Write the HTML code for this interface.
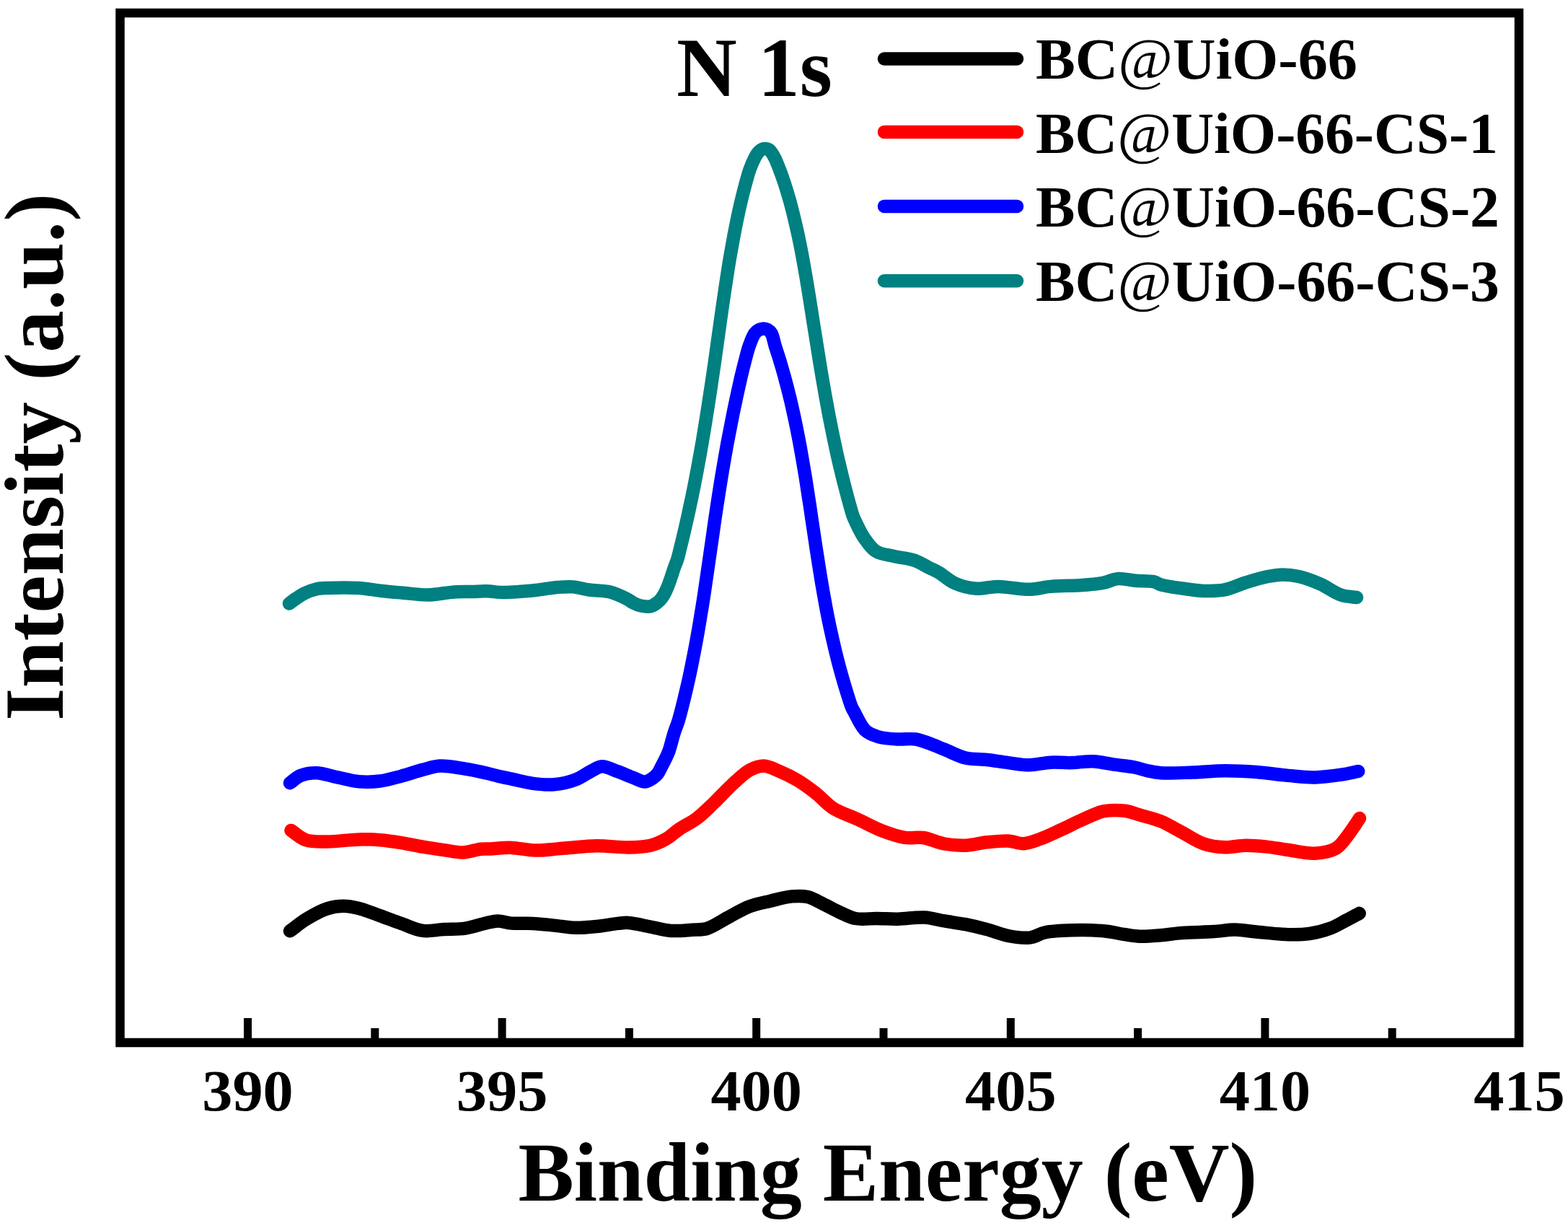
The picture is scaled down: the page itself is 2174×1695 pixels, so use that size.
<!DOCTYPE html>
<html><head><meta charset="utf-8"><title>N 1s XPS</title>
<style>
html,body{margin:0;padding:0;background:#fff;}
body{width:2174px;height:1695px;overflow:hidden;}
svg{display:block;}
text{font-family:"Liberation Serif","Times New Roman",serif;font-weight:bold;fill:#000;}
</style></head><body>
<svg width="2174" height="1695" viewBox="0 0 2174 1695">
<rect x="0" y="0" width="2174" height="1695" fill="#fff"/>
<g fill="none" stroke-width="18.5" stroke-linecap="round" stroke-linejoin="round">
<path d="M402.0 1290.3C409.4 1284.9 416.1 1279.2 424.2 1274.2C433.1 1268.8 444.3 1262.4 453.6 1259.4C461.3 1256.9 468.3 1255.9 475.7 1255.8C483.0 1255.7 489.9 1257.1 497.7 1259.0C506.9 1261.3 517.4 1265.8 527.2 1269.3C537.0 1272.8 546.8 1276.6 556.6 1280.0C566.4 1283.4 576.1 1288.6 586.1 1289.9C595.8 1291.2 605.7 1288.6 615.5 1288.1C625.3 1287.6 635.2 1288.1 645.0 1286.7C654.9 1285.2 666.1 1281.1 674.4 1279.3C680.4 1278.0 684.5 1276.6 690.0 1276.5C696.1 1276.4 702.2 1279.0 709.4 1279.6C718.2 1280.3 729.1 1279.4 738.9 1279.9C748.7 1280.4 758.5 1281.6 768.3 1282.6C778.1 1283.6 788.0 1285.6 797.8 1285.8C807.6 1286.0 817.4 1285.0 827.2 1284.0C837.0 1283.0 848.5 1280.7 856.6 1279.9C862.3 1279.3 865.6 1278.6 871.3 1278.9C879.5 1279.4 891.0 1282.5 900.8 1284.3C910.6 1286.1 920.3 1289.2 930.2 1289.9C940.0 1290.6 950.8 1289.3 959.7 1288.7C967.1 1288.2 972.8 1289.1 980.0 1287.0C989.2 1284.3 999.6 1276.6 1009.4 1271.5C1019.2 1266.4 1028.9 1260.2 1038.9 1256.4C1048.5 1252.7 1058.5 1251.0 1068.3 1248.7C1078.1 1246.4 1088.6 1243.2 1097.8 1242.4C1105.6 1241.7 1112.6 1241.4 1119.8 1243.1C1127.3 1244.9 1134.6 1249.6 1141.9 1253.1C1149.3 1256.6 1156.6 1260.9 1164.0 1264.2C1171.3 1267.5 1178.0 1271.5 1186.1 1273.0C1195.1 1274.7 1205.7 1272.9 1215.5 1273.0C1225.3 1273.1 1234.6 1273.9 1245.0 1273.7C1256.6 1273.5 1270.4 1270.8 1281.7 1271.5C1291.6 1272.1 1300.0 1274.8 1309.4 1276.4C1319.1 1278.0 1329.1 1279.3 1338.9 1281.2C1348.7 1283.2 1358.5 1285.5 1368.3 1288.1C1378.2 1290.7 1387.9 1295.1 1397.8 1297.0C1407.5 1298.9 1418.2 1300.6 1427.2 1299.6C1435.2 1298.7 1440.9 1294.0 1449.3 1292.3C1459.9 1290.1 1473.3 1289.7 1486.1 1289.3C1500.1 1288.9 1517.0 1289.1 1530.2 1290.3C1541.1 1291.3 1550.8 1293.9 1559.7 1295.2C1567.1 1296.3 1572.6 1297.4 1580.0 1297.7C1588.9 1298.0 1599.6 1297.0 1609.4 1296.2C1619.2 1295.4 1628.1 1293.8 1638.9 1293.0C1652.1 1292.0 1669.8 1291.9 1683.0 1291.1C1693.8 1290.4 1702.7 1288.5 1712.5 1288.6C1722.3 1288.7 1731.1 1290.5 1741.9 1291.5C1755.1 1292.7 1772.9 1294.9 1786.1 1295.2C1796.9 1295.4 1805.8 1295.4 1815.5 1294.0C1825.4 1292.5 1836.1 1289.8 1845.0 1286.4C1853.0 1283.4 1860.1 1278.9 1867.0 1275.3C1873.2 1272.1 1878.8 1269.0 1884.7 1265.8" stroke="#000000" />
<path d="M403.5 1150.9C410.4 1155.3 416.3 1161.6 424.2 1164.2C432.8 1167.1 442.8 1166.4 453.6 1166.4C466.8 1166.4 484.5 1163.7 497.7 1163.4C508.5 1163.2 517.4 1163.4 527.2 1164.2C537.0 1165.0 546.8 1166.5 556.6 1168.1C566.4 1169.7 576.3 1172.0 586.1 1173.7C595.9 1175.4 605.9 1176.8 615.5 1178.1C624.6 1179.3 633.3 1181.7 642.0 1181.4C650.5 1181.1 660.0 1177.4 667.0 1176.7C672.0 1176.2 674.8 1176.6 680.0 1176.4C687.8 1176.1 699.4 1174.6 709.4 1174.9C720.0 1175.2 730.3 1178.4 741.8 1178.6C754.7 1178.9 769.0 1176.6 783.0 1175.6C797.5 1174.5 812.5 1172.4 827.2 1172.2C841.9 1172.0 858.1 1174.7 871.3 1174.5C882.1 1174.3 891.8 1174.1 900.8 1172.0C908.9 1170.1 916.0 1166.9 922.9 1163.1C929.8 1159.3 935.2 1153.6 942.0 1149.0C949.4 1144.0 958.3 1140.2 966.0 1134.4C974.2 1128.3 981.8 1120.4 989.7 1112.9C998.0 1105.0 1006.0 1095.7 1014.5 1088.0C1022.6 1080.6 1031.1 1071.7 1039.4 1067.3C1046.0 1063.8 1052.5 1061.3 1059.2 1061.5C1066.3 1061.7 1073.5 1065.9 1080.8 1069.0C1088.9 1072.4 1097.5 1076.6 1105.6 1081.4C1114.1 1086.4 1122.3 1092.5 1130.4 1098.8C1138.9 1105.4 1145.9 1114.3 1155.3 1120.3C1165.1 1126.6 1177.4 1130.1 1188.4 1135.2C1199.5 1140.3 1210.3 1146.6 1221.5 1150.9C1232.4 1155.1 1244.2 1159.3 1254.6 1160.9C1263.5 1162.2 1271.3 1159.8 1280.0 1161.0C1289.5 1162.4 1299.5 1167.7 1309.4 1169.5C1319.1 1171.3 1329.1 1172.1 1338.9 1171.7C1348.7 1171.3 1358.5 1168.3 1368.3 1167.3C1378.1 1166.3 1388.7 1165.0 1397.8 1165.5C1405.7 1165.9 1412.5 1169.6 1419.8 1169.2C1427.2 1168.8 1434.1 1165.7 1441.9 1162.9C1451.1 1159.6 1461.5 1154.4 1471.3 1150.0C1481.2 1145.5 1490.9 1140.4 1500.8 1136.1C1510.5 1131.9 1520.2 1126.3 1530.2 1124.3C1539.8 1122.4 1550.9 1122.7 1559.7 1123.8C1567.2 1124.7 1572.6 1127.3 1580.0 1129.4C1588.9 1132.0 1599.8 1134.4 1609.4 1138.3C1619.4 1142.4 1629.1 1148.5 1638.9 1153.7C1648.7 1158.8 1658.2 1165.8 1668.3 1169.2C1677.9 1172.5 1687.9 1173.9 1697.8 1174.3C1707.6 1174.7 1717.4 1171.8 1727.2 1171.7C1737.0 1171.6 1746.8 1172.6 1756.6 1173.6C1766.4 1174.7 1775.7 1176.6 1786.1 1178.0C1797.7 1179.6 1811.4 1183.3 1822.9 1182.7C1833.3 1182.2 1844.6 1180.3 1852.3 1175.8C1858.9 1172.0 1862.9 1165.2 1867.5 1159.5C1871.9 1154.0 1876.3 1147.2 1879.5 1142.5C1881.7 1139.2 1883.2 1136.8 1885.0 1134.0" stroke="#ff0000" />
<path d="M402.0 1085.2C406.9 1081.8 411.1 1077.2 416.8 1074.9C423.2 1072.3 431.0 1071.0 438.9 1071.2C448.0 1071.4 458.5 1075.4 468.3 1077.4C478.1 1079.4 487.8 1082.5 497.7 1083.3C507.5 1084.1 517.4 1083.8 527.2 1082.5C537.1 1081.2 546.8 1078.2 556.6 1075.6C566.5 1073.0 576.8 1069.2 586.1 1066.8C594.3 1064.7 600.9 1062.1 609.6 1061.6C620.2 1061.0 633.8 1063.8 645.0 1065.6C655.3 1067.2 666.2 1069.6 674.4 1071.5C680.4 1072.9 684.5 1074.1 690.0 1075.4C696.1 1076.8 702.3 1078.1 709.4 1079.6C718.2 1081.5 729.0 1084.5 738.9 1085.8C748.7 1087.1 758.5 1088.1 768.3 1087.3C778.2 1086.4 788.9 1084.0 797.8 1080.6C805.9 1077.5 813.1 1071.9 819.8 1068.6C825.1 1066.0 829.0 1062.5 834.5 1062.2C841.1 1061.9 849.3 1066.7 856.6 1069.3C864.0 1072.0 871.9 1075.6 878.7 1078.1C884.3 1080.2 889.6 1083.7 894.3 1083.5C898.2 1083.3 901.9 1080.6 905.0 1078.5C907.7 1076.6 910.0 1074.6 912.0 1072.0C914.3 1069.0 915.9 1064.8 917.7 1061.4C919.4 1058.2 921.0 1055.2 922.5 1052.0C924.1 1048.7 925.5 1046.1 927.1 1041.9C929.5 1035.3 932.2 1023.6 934.6 1016.0C936.5 1010.0 938.5 1005.7 940.3 1000.0C942.3 993.7 944.0 986.7 945.7 980.0C947.4 973.3 949.0 966.7 950.6 960.0C952.2 953.3 953.7 946.7 955.2 940.0C956.7 933.3 958.0 926.7 959.4 920.0C960.7 913.3 962.0 906.7 963.3 900.0C964.6 893.3 965.8 886.7 967.0 880.0C968.2 873.3 969.3 866.7 970.4 860.0C971.5 853.3 972.6 846.7 973.7 840.0C974.8 833.3 975.8 826.7 976.8 820.0C977.8 813.3 978.7 806.7 979.7 800.0C980.7 793.3 981.6 786.7 982.6 780.0C983.6 773.3 984.5 766.7 985.5 760.0C986.5 753.3 987.4 746.7 988.4 740.0C989.3 733.3 990.2 726.7 991.2 720.0C992.2 713.3 993.2 706.7 994.2 700.0C995.2 693.3 996.3 686.7 997.3 680.0C998.4 673.3 999.4 666.7 1000.5 660.0C1001.6 653.3 1002.8 646.7 1003.9 640.0C1005.1 633.3 1006.2 626.7 1007.4 620.0C1008.6 613.3 1009.9 606.7 1011.2 600.0C1012.5 593.3 1013.8 586.7 1015.1 580.0C1016.4 573.3 1017.8 566.7 1019.2 560.0C1020.6 553.3 1022.0 546.7 1023.5 540.0C1025.0 533.3 1026.4 526.7 1028.0 520.0C1029.6 513.3 1031.2 506.7 1033.0 500.0C1034.8 493.3 1036.3 486.4 1038.6 480.0C1040.8 473.8 1043.5 465.9 1046.5 462.0C1048.4 459.5 1050.4 458.1 1052.5 457.0C1054.4 456.0 1056.5 455.5 1058.5 455.5C1060.5 455.5 1062.7 456.0 1064.5 457.0C1066.4 458.1 1068.0 459.6 1069.5 462.0C1071.9 466.0 1073.0 473.9 1074.9 480.0C1076.9 486.5 1079.3 493.3 1081.3 500.0C1083.3 506.7 1085.2 513.3 1087.1 520.0C1088.9 526.7 1090.7 533.3 1092.4 540.0C1094.1 546.7 1095.7 553.3 1097.3 560.0C1098.8 566.7 1100.3 573.3 1101.7 580.0C1103.1 586.7 1104.5 593.3 1105.8 600.0C1107.1 606.7 1108.4 613.3 1109.6 620.0C1110.8 626.7 1111.9 633.3 1113.1 640.0C1114.2 646.7 1115.4 653.3 1116.5 660.0C1117.6 666.7 1118.6 673.3 1119.6 680.0C1120.6 686.7 1121.7 693.3 1122.7 700.0C1123.7 706.7 1124.6 713.3 1125.6 720.0C1126.6 726.7 1127.6 733.3 1128.6 740.0C1129.6 746.7 1130.6 753.3 1131.6 760.0C1132.6 766.7 1133.7 773.3 1134.7 780.0C1135.8 786.7 1136.8 793.3 1137.9 800.0C1139.0 806.7 1140.1 813.3 1141.3 820.0C1142.5 826.7 1143.7 833.3 1144.9 840.0C1146.2 846.7 1147.4 853.3 1148.8 860.0C1150.2 866.7 1151.6 873.3 1153.1 880.0C1154.6 886.7 1156.1 893.3 1157.7 900.0C1159.3 906.7 1161.0 913.3 1162.7 920.0C1164.5 926.7 1166.3 933.3 1168.2 940.0C1170.1 946.7 1172.1 953.3 1174.2 960.0C1176.3 966.7 1178.8 975.3 1180.8 980.0C1181.9 982.6 1182.5 983.3 1184.0 986.0C1187.2 991.7 1193.3 1006.4 1199.7 1012.3C1204.8 1017.0 1210.6 1019.0 1217.2 1021.0C1224.9 1023.4 1234.6 1023.9 1243.4 1024.5C1252.1 1025.1 1261.8 1023.3 1269.6 1024.5C1276.1 1025.5 1280.9 1027.7 1287.0 1029.8C1294.0 1032.3 1301.4 1035.5 1309.4 1038.7C1318.6 1042.4 1328.9 1048.1 1338.9 1050.5C1348.5 1052.8 1358.5 1051.9 1368.3 1053.0C1378.1 1054.1 1388.0 1055.9 1397.8 1057.1C1407.6 1058.3 1417.4 1060.4 1427.2 1060.3C1437.0 1060.2 1446.8 1057.2 1456.6 1056.7C1466.4 1056.2 1476.3 1057.4 1486.1 1057.1C1495.9 1056.8 1505.7 1054.8 1515.5 1055.2C1525.3 1055.6 1535.1 1058.2 1544.9 1059.6C1554.7 1061.0 1566.2 1062.0 1574.4 1063.7C1580.5 1065.0 1584.5 1066.8 1590.0 1068.0C1596.1 1069.3 1601.6 1070.6 1609.4 1071.2C1621.1 1072.1 1638.9 1071.0 1653.6 1070.5C1668.3 1070.0 1683.1 1068.4 1697.8 1068.3C1712.5 1068.2 1727.2 1068.9 1741.9 1070.0C1756.6 1071.1 1772.0 1073.6 1786.1 1074.9C1798.9 1076.0 1810.6 1077.6 1822.9 1077.4C1835.2 1077.2 1848.8 1075.3 1859.7 1073.7C1868.4 1072.4 1875.4 1070.6 1883.2 1069.0" stroke="#0000ff" />
<path d="M401.0 836.5C404.2 834.2 407.1 831.8 410.5 829.5C414.1 827.1 417.6 824.6 421.8 822.5C426.7 820.1 432.9 817.7 438.4 816.5C443.5 815.3 447.2 815.3 453.6 815.0C464.5 814.5 484.5 814.2 497.7 815.0C508.5 815.7 517.2 817.6 527.0 818.7C536.8 819.8 546.2 820.6 556.6 821.5C568.2 822.5 581.2 824.7 593.4 824.5C605.6 824.3 619.0 821.1 630.0 820.4C639.0 819.8 646.9 820.2 654.7 820.0C661.6 819.8 667.5 819.2 674.4 819.3C682.1 819.4 689.5 821.0 698.9 821.0C711.5 821.0 729.8 819.3 743.0 818.0C753.8 816.9 763.4 814.7 772.5 814.0C780.4 813.4 787.2 812.8 794.5 813.4C801.9 814.0 808.7 816.4 816.6 817.5C825.7 818.8 837.1 818.3 846.0 820.5C854.0 822.5 862.2 826.6 868.0 829.5C872.1 831.5 874.6 833.8 878.0 835.5C881.3 837.1 884.5 838.7 888.3 839.5C892.6 840.4 898.4 841.2 902.5 840.2C906.2 839.3 909.5 836.5 912.1 834.5C914.1 832.9 915.5 831.4 917.0 829.5C918.6 827.4 920.1 825.1 921.5 822.5C923.1 819.5 924.6 816.0 926.0 812.5C927.6 808.6 929.0 804.2 930.5 800.0C932.0 795.7 933.3 791.2 934.8 787.0C936.2 782.9 938.0 779.3 939.3 775.0C940.8 770.3 941.8 765.0 943.1 760.0C944.3 755.0 945.6 750.0 946.8 745.0C948.0 740.0 949.1 735.0 950.3 730.0C951.4 725.0 952.6 720.0 953.7 715.0C954.8 710.0 955.8 705.0 956.9 700.0C958.0 695.0 959.1 690.0 960.1 685.0C961.1 680.0 962.1 675.0 963.1 670.0C964.1 665.0 965.0 660.0 966.0 655.0C966.9 650.0 967.9 645.0 968.8 640.0C969.7 635.0 970.6 630.0 971.5 625.0C972.4 620.0 973.2 615.0 974.1 610.0C974.9 605.0 975.8 600.0 976.6 595.0C977.4 590.0 978.2 585.0 979.0 580.0C979.8 575.0 980.6 570.0 981.4 565.0C982.2 560.0 982.9 555.0 983.7 550.0C984.5 545.0 985.2 540.0 986.0 535.0C986.7 530.0 987.5 525.0 988.2 520.0C988.9 515.0 989.7 510.0 990.4 505.0C991.1 500.0 991.8 495.0 992.5 490.0C993.2 485.0 993.9 480.0 994.6 475.0C995.3 470.0 996.0 465.0 996.7 460.0C997.4 455.0 998.1 450.0 998.8 445.0C999.5 440.0 1000.2 435.0 1000.9 430.0C1001.6 425.0 1002.4 420.0 1003.1 415.0C1003.8 410.0 1004.6 405.0 1005.3 400.0C1006.1 395.0 1006.8 390.0 1007.6 385.0C1008.4 380.0 1009.1 375.0 1009.9 370.0C1010.7 365.0 1011.5 360.0 1012.4 355.0C1013.3 350.0 1014.2 345.0 1015.1 340.0C1016.0 335.0 1016.9 330.0 1017.8 325.0C1018.8 320.0 1019.8 315.0 1020.8 310.0C1021.8 305.0 1022.8 300.0 1023.9 295.0C1025.0 290.0 1026.1 285.0 1027.3 280.0C1028.5 275.0 1029.7 270.0 1031.0 265.0C1032.3 260.0 1033.6 255.0 1035.0 250.0C1036.4 245.0 1037.7 240.1 1039.5 235.0C1041.5 229.5 1044.4 222.7 1046.7 218.3C1048.3 215.2 1049.8 212.7 1051.5 210.8C1052.9 209.2 1054.4 208.0 1056.0 207.2C1057.5 206.4 1059.3 206.0 1061.0 206.0C1062.7 206.0 1064.6 206.5 1066.0 207.4C1067.4 208.3 1068.4 209.6 1069.6 211.2C1071.2 213.4 1072.9 216.2 1074.5 219.5C1076.6 223.8 1078.9 229.9 1080.9 235.0C1082.8 240.0 1084.6 245.0 1086.3 250.0C1088.0 255.0 1089.6 260.0 1091.1 265.0C1092.6 270.0 1094.1 275.0 1095.5 280.0C1096.9 285.0 1098.1 290.0 1099.4 295.0C1100.6 300.0 1101.8 305.0 1103.0 310.0C1104.2 315.0 1105.3 320.0 1106.4 325.0C1107.5 330.0 1108.5 335.0 1109.5 340.0C1110.5 345.0 1111.5 350.0 1112.4 355.0C1113.3 360.0 1114.2 365.0 1115.1 370.0C1116.0 375.0 1116.8 380.0 1117.7 385.0C1118.5 390.0 1119.4 395.0 1120.2 400.0C1121.0 405.0 1121.8 410.0 1122.6 415.0C1123.4 420.0 1124.2 425.0 1125.0 430.0C1125.8 435.0 1126.5 440.0 1127.3 445.0C1128.1 450.0 1128.9 455.0 1129.7 460.0C1130.5 465.0 1131.3 470.0 1132.1 475.0C1132.9 480.0 1133.7 485.0 1134.5 490.0C1135.3 495.0 1136.1 500.0 1136.9 505.0C1137.7 510.0 1138.6 515.0 1139.4 520.0C1140.3 525.0 1141.1 530.0 1142.0 535.0C1142.9 540.0 1143.7 545.0 1144.6 550.0C1145.5 555.0 1146.5 560.0 1147.4 565.0C1148.3 570.0 1149.2 575.0 1150.2 580.0C1151.2 585.0 1152.2 590.0 1153.2 595.0C1154.2 600.0 1155.3 605.0 1156.3 610.0C1157.4 615.0 1158.4 620.0 1159.5 625.0C1160.6 630.0 1161.7 635.0 1162.9 640.0C1164.1 645.0 1165.3 650.0 1166.5 655.0C1167.7 660.0 1168.9 665.0 1170.2 670.0C1171.5 675.0 1172.8 680.0 1174.1 685.0C1175.4 690.0 1176.8 695.0 1178.2 700.0C1179.6 705.0 1181.2 711.0 1182.6 715.0C1183.6 717.7 1184.1 718.8 1185.5 721.6C1188.1 727.1 1193.0 738.0 1197.9 745.2C1202.7 752.1 1207.5 759.7 1214.4 764.0C1221.4 768.4 1231.1 768.9 1239.8 771.0C1248.9 773.2 1259.8 773.8 1268.1 776.7C1275.2 779.2 1281.1 783.2 1287.0 786.2C1292.3 788.9 1296.6 790.6 1302.0 793.7C1308.7 797.6 1315.8 804.8 1324.0 808.4C1332.8 812.3 1343.7 815.1 1353.6 815.8C1363.4 816.5 1372.2 813.0 1383.0 812.9C1396.2 812.8 1414.0 817.1 1427.2 816.8C1438.0 816.6 1445.8 813.8 1456.6 812.9C1469.8 811.7 1487.6 812.0 1500.8 811.0C1511.6 810.2 1521.5 809.4 1530.2 807.7C1537.3 806.3 1542.5 802.7 1549.4 802.1C1557.1 801.4 1566.0 804.1 1574.4 804.8C1582.9 805.5 1593.7 804.7 1600.0 806.2C1604.0 807.2 1605.3 809.1 1609.4 810.3C1616.4 812.4 1629.1 814.1 1638.9 815.5C1648.7 816.9 1658.5 818.6 1668.3 818.9C1678.1 819.2 1688.1 819.3 1697.8 817.4C1707.7 815.5 1717.4 810.4 1727.2 807.4C1737.0 804.4 1747.4 801.2 1756.6 799.3C1764.4 797.7 1771.3 796.4 1778.7 796.4C1786.1 796.4 1793.0 797.2 1800.8 799.0C1810.0 801.1 1820.5 805.1 1830.2 809.3C1840.2 813.6 1850.4 821.8 1859.7 824.8C1867.2 827.2 1873.9 826.9 1881.0 828.0" stroke="#008080" />
</g>
<g stroke="#000" stroke-width="11" stroke-linecap="butt"><line x1="343.5" y1="1411.0" x2="343.5" y2="1440" /><line x1="696.1" y1="1411.0" x2="696.1" y2="1440" /><line x1="1048.7" y1="1411.0" x2="1048.7" y2="1440" /><line x1="1401.3" y1="1411.0" x2="1401.3" y2="1440" /><line x1="1753.9" y1="1411.0" x2="1753.9" y2="1440" /><line x1="519.8" y1="1425.0" x2="519.8" y2="1440" /><line x1="872.4" y1="1425.0" x2="872.4" y2="1440" /><line x1="1225.0" y1="1425.0" x2="1225.0" y2="1440" /><line x1="1577.6" y1="1425.0" x2="1577.6" y2="1440" /><line x1="1930.2" y1="1425.0" x2="1930.2" y2="1440" /></g>
<rect x="166.5" y="18" width="1939.5" height="1427" fill="none" stroke="#000" stroke-width="12.5"/>
<g fill="none" stroke-width="18.5" stroke-linecap="round"><line x1="1226.0" y1="81.5" x2="1410.0" y2="81.5" stroke="#000000" /><line x1="1226.0" y1="182.9" x2="1410.0" y2="182.9" stroke="#ff0000" /><line x1="1226.0" y1="285.9" x2="1410.0" y2="285.9" stroke="#0000ff" /><line x1="1226.0" y1="389.3" x2="1410.0" y2="389.3" stroke="#008080" /></g>
<g font-size="81"><text x="343.5" y="1539.0" text-anchor="middle" textLength="126.5" lengthAdjust="spacingAndGlyphs">390</text><text x="696.1" y="1539.0" text-anchor="middle" textLength="126.5" lengthAdjust="spacingAndGlyphs">395</text><text x="1048.7" y="1539.0" text-anchor="middle" textLength="126.5" lengthAdjust="spacingAndGlyphs">400</text><text x="1401.3" y="1539.0" text-anchor="middle" textLength="126.5" lengthAdjust="spacingAndGlyphs">405</text><text x="1753.9" y="1539.0" text-anchor="middle" textLength="126.5" lengthAdjust="spacingAndGlyphs">410</text><text x="2106.5" y="1539.0" text-anchor="middle" textLength="126.5" lengthAdjust="spacingAndGlyphs">415</text></g>
<text x="718.5" y="1664" font-size="116">Binding Energy (eV)</text>
<text transform="translate(87 999) rotate(-90)" x="0" y="0" font-size="117">Intensity (a.u.)</text>
<text x="938" y="133" font-size="116">N 1s</text>
<g font-size="80"><text x="1436.0" y="108.8" textLength="446.0" lengthAdjust="spacingAndGlyphs">BC<tspan font-weight="normal">@</tspan>UiO-66</text><text x="1436.0" y="211.5" textLength="641.0" lengthAdjust="spacingAndGlyphs">BC<tspan font-weight="normal">@</tspan>UiO-66-CS-1</text><text x="1436.0" y="314.2" textLength="643.0" lengthAdjust="spacingAndGlyphs">BC<tspan font-weight="normal">@</tspan>UiO-66-CS-2</text><text x="1436.0" y="416.9" textLength="643.0" lengthAdjust="spacingAndGlyphs">BC<tspan font-weight="normal">@</tspan>UiO-66-CS-3</text></g>
</svg>
</body></html>
